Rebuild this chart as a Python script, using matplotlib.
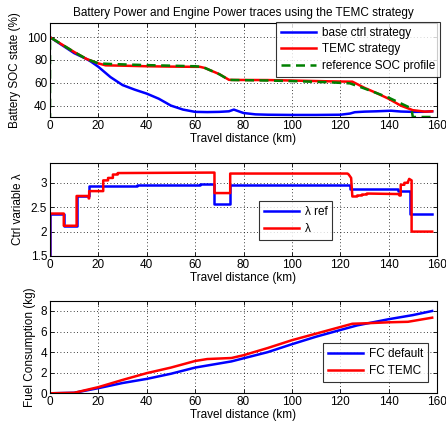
import matplotlib
matplotlib.use("Agg")
import matplotlib.pyplot as plt

plt.rcParams['font.family'] = ['Liberation Sans', 'DejaVu Sans']
FS = 8.5

# --- SOC panel data ---
base_x = [0, 5, 10, 15, 17, 20, 25, 30, 35, 40, 45, 50, 55, 60, 65, 70, 74, 76, 78, 80, 85, 90, 100, 110, 120, 124, 126, 130, 135, 141, 145, 150, 155, 158]
base_y = [100, 93, 86, 81, 78.5, 74, 65, 58, 54, 50.5, 46, 40, 36.5, 34.5, 34.3, 34.5, 35, 36.5, 35, 33.5, 32.3, 32, 31.8, 31.8, 32, 33, 34.2, 34.7, 35, 35.5, 34.8, 34.5, 34.6, 35]
temc_x = [0, 5, 10, 15, 20, 23, 30, 40, 50, 60, 62, 64, 70, 74, 76, 90, 100, 115, 124, 125, 130, 135, 140, 145, 150, 155, 158]
temc_y = [100, 93.5, 87, 81, 77, 75.3, 75, 74.5, 74.2, 74, 74, 73, 67.6, 62.6, 62.5, 62.4, 62, 61.3, 61, 61, 55.6, 51, 46, 40, 36, 34.7, 35]
ref_x = [0, 0, 5, 10, 15, 20, 25, 40, 50, 60, 63, 70, 74, 90, 100, 115, 124, 130, 135, 140, 145, 148, 149.5, 150, 158]
ref_y = [0, 100, 93.5, 87, 81, 77, 76.5, 75.5, 75, 74.5, 74, 67.5, 62.5, 62, 61.5, 60.5, 59.5, 55, 51, 47, 42, 39, 36.5, 30, 30]

# --- lambda panel data ---
lref_x = [0, 0, 5.7, 5.7, 11, 11, 16, 16, 36, 36, 62, 62, 68, 68, 74.5, 74.5, 124, 124, 144, 144, 149, 149, 158]
lref_y = [1.5, 2.37, 2.37, 2.12, 2.12, 2.73, 2.73, 2.94, 2.94, 2.96, 2.96, 2.97, 2.97, 2.56, 2.56, 2.95, 2.95, 2.875, 2.875, 2.84, 2.84, 2.37, 2.37]
lam_x = [0, 0, 5.7, 5.7, 11, 11, 16, 16, 16.2, 16.2, 22, 22, 24, 24, 26, 26, 28, 28, 68, 68, 74.5, 74.5, 123, 123.5, 124.5, 125, 127, 127, 129, 129, 131, 131, 144, 144.5, 145, 145, 146.5, 146.5, 148, 148, 148.5, 149.5, 149.5, 158]
lam_y = [1.5, 2.37, 2.37, 2.12, 2.12, 2.73, 2.73, 2.68, 2.68, 2.83, 2.83, 3.05, 3.05, 3.1, 3.1, 3.17, 3.17, 3.2, 3.21, 2.79, 2.79, 3.19, 3.19, 3.17, 3.1, 2.72, 2.72, 2.74, 2.74, 2.76, 2.76, 2.78, 2.77, 2.74, 2.74, 2.96, 2.96, 3.0, 3.0, 3.02, 3.08, 3.05, 2.0, 2.0]

# --- fuel panel data ---
fcd_x = [0, 10, 20, 30, 40, 50, 60, 75, 80, 90, 100, 110, 120, 127, 140, 150, 158]
fcd_y = [0, 0.05, 0.5, 1.0, 1.4, 1.9, 2.5, 3.1, 3.4, 4.0, 4.77, 5.5, 6.15, 6.6, 7.2, 7.6, 8.0]
fct_x = [0, 10, 20, 30, 40, 50, 60, 65, 75, 80, 90, 100, 110, 120, 125, 130, 140, 148, 158]
fct_y = [0, 0.05, 0.6, 1.3, 1.96, 2.5, 3.14, 3.33, 3.43, 3.7, 4.4, 5.16, 5.8, 6.44, 6.76, 6.8, 6.9, 6.95, 7.35]

xticks = [0, 20, 40, 60, 80, 100, 120, 140, 160]

W, H = 446, 426
fig = plt.figure(figsize=(W / 100, H / 100), dpi=100)

def mkax(top, bot):
    return fig.add_axes([50 / W, 1 - bot / H, 387 / W, (bot - top) / H])

def style(ax):
    ax.set_xlim(0, 160)
    ax.set_xticks(xticks)
    ax.grid(True, color='black', linestyle=(0, (1, 3)), linewidth=0.6)
    ax.tick_params(direction='in', labelsize=FS, length=3, width=0.6, top=True, right=True, pad=2)
    for s in ax.spines.values():
        s.set_linewidth(0.8)
    ax.set_xlabel('Travel distance (km)', fontsize=FS, labelpad=1)

lw = 1.8
legkw = dict(fontsize=FS, frameon=True, fancybox=False, edgecolor='black', handlelength=3.0,
             borderaxespad=0, handletextpad=0.45, borderpad=0.42, labelspacing=0.4,
             bbox_transform=fig.transFigure, loc='upper left')

ax1 = mkax(22.7, 117)
ax1.plot(base_x, base_y, color='blue', lw=lw, label='base ctrl strategy')
ax1.plot(temc_x, temc_y, color='red', lw=lw, label='TEMC strategy')
ax1.plot(ref_x, ref_y, color='green', lw=lw, ls=(0, (3.6, 2.2)), label='reference SOC profile')
ax1.set_ylim(30, 112.7)
ax1.set_yticks([40, 60, 80, 100])
style(ax1)
ax1.set_ylabel('Battery SOC state (%)', fontsize=FS, labelpad=4.5)
ax1.set_title('Battery Power and Engine Power traces using the TEMC strategy', fontsize=FS, pad=4.5)
leg1 = ax1.legend(bbox_to_anchor=(276 / W, 1 - 21.7 / H), **legkw)
leg1.get_frame().set_linewidth(0.8)

ax2 = mkax(163.3, 256)
ax2.plot(lref_x, lref_y, color='blue', lw=lw, label='λ ref')
ax2.plot(lam_x, lam_y, color='red', lw=lw, label='λ')
ax2.set_ylim(1.5, 3.4)
ax2.set_yticks([1.5, 2, 2.5, 3])
ax2.set_yticklabels(['1.5', '2', '2.5', '3'])
style(ax2)
ax2.set_ylabel('Ctrl variable λ', fontsize=FS, labelpad=4.5)
leg2 = ax2.legend(bbox_to_anchor=(259 / W, 1 - 201 / H), **legkw)
leg2.get_frame().set_linewidth(0.8)

ax3 = mkax(300.7, 393.3)
ax3.plot(fcd_x, fcd_y, color='blue', lw=lw, label='FC default')
ax3.plot(fct_x, fct_y, color='red', lw=lw, label='FC TEMC')
ax3.set_ylim(0, 9)
ax3.set_yticks([0, 2, 4, 6, 8])
style(ax3)
ax3.set_ylabel('Fuel Consumption (kg)', fontsize=FS, labelpad=3.5)
leg3 = ax3.legend(bbox_to_anchor=(323 / W, 1 - 343 / H), **legkw)
leg3.get_frame().set_linewidth(0.8)

fig.savefig('out.png', dpi=100)
